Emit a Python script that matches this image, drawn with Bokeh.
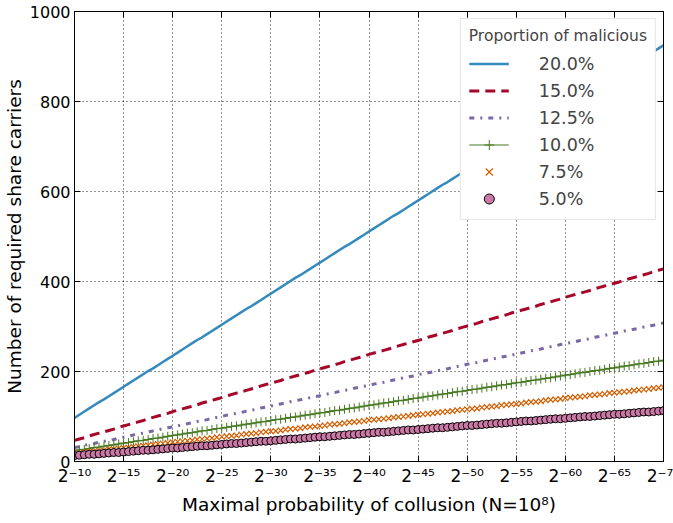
from bokeh.plotting import figure
from bokeh.models import (ColumnDataSource, Legend, LegendItem, FixedTicker,
                          LinearAxis, Range1d, CustomLabelingPolicy)
from bokeh.embed import file_html
from bokeh.resources import INLINE

# exponent k of the maximal probability of collusion 2^-k (grid step 0.5)
exponents = [e / 2 for e in range(20, 141)]

s20 = [97, 104, 111, 118, 125, 132, 138, 145, 152, 159, 166, 173, 180, 187, 194, 201, 207, 214, 221, 228,
       235, 242, 249, 256, 263, 270, 276, 283, 290, 297, 304, 311, 318, 325, 332, 339, 345, 352, 359, 366,
       373, 380, 387, 394, 401, 408, 414, 421, 428, 435, 442, 449, 456, 463, 470, 477, 483, 490, 497, 504,
       511, 518, 525, 532, 539, 546, 552, 559, 566, 573, 580, 587, 594, 601, 608, 615, 621, 628, 635, 642,
       649, 656, 663, 670, 677, 684, 690, 697, 704, 711, 718, 725, 732, 739, 746, 753, 759, 766, 773, 780,
       787, 794, 801, 808, 815, 822, 828, 835, 842, 849, 856, 863, 870, 877, 884, 891, 897, 904, 911, 918,
       925]
s15 = [47, 50, 53, 57, 60, 63, 66, 69, 72, 76, 79, 82, 85, 88, 91, 95, 98, 101, 104, 107,
       111, 114, 117, 120, 123, 126, 130, 133, 136, 139, 142, 145, 149, 152, 155, 158, 161, 164, 168, 171,
       174, 177, 180, 184, 187, 190, 193, 196, 199, 203, 206, 209, 212, 215, 218, 222, 225, 228, 231, 234,
       238, 241, 244, 247, 250, 253, 257, 260, 263, 266, 269, 272, 276, 279, 282, 285, 288, 291, 295, 298,
       301, 304, 307, 311, 314, 317, 320, 323, 326, 330, 333, 336, 339, 342, 345, 349, 352, 355, 358, 361,
       365, 368, 371, 374, 377, 380, 384, 387, 390, 393, 396, 399, 403, 406, 409, 412, 415, 418, 422, 425,
       428]
s125 = [31, 33, 36, 38, 40, 43, 45, 47, 49, 52, 54, 56, 59, 61, 63, 66, 68, 70, 73, 75,
        77, 79, 82, 84, 86, 89, 91, 93, 96, 98, 100, 103, 105, 107, 109, 112, 114, 116, 119, 121,
        123, 126, 128, 130, 133, 135, 137, 139, 142, 144, 146, 149, 151, 153, 156, 158, 160, 163, 165, 167,
        169, 172, 174, 176, 179, 181, 183, 186, 188, 190, 193, 195, 197, 199, 202, 204, 206, 209, 211, 213,
        216, 218, 220, 223, 225, 227, 230, 232, 234, 236, 239, 241, 243, 246, 248, 250, 253, 255, 257, 260,
        262, 264, 266, 269, 271, 273, 276, 278, 280, 283, 285, 287, 290, 292, 294, 296, 299, 301, 303, 306,
        308]
s10 = [24, 26, 27, 29, 31, 32, 34, 36, 37, 39, 41, 42, 44, 46, 47, 49, 51, 52, 54, 56,
       58, 59, 61, 63, 64, 66, 68, 69, 71, 73, 74, 76, 78, 79, 81, 83, 84, 86, 88, 89,
       91, 93, 94, 96, 98, 99, 101, 103, 104, 106, 108, 109, 111, 113, 114, 116, 118, 119, 121, 123,
       125, 126, 128, 130, 131, 133, 135, 136, 138, 140, 141, 143, 145, 146, 148, 150, 151, 153, 155, 156,
       158, 160, 161, 163, 165, 166, 168, 170, 171, 173, 175, 176, 178, 180, 181, 183, 185, 186, 188, 190,
       192, 193, 195, 197, 198, 200, 202, 203, 205, 207, 208, 210, 212, 213, 215, 217, 218, 220, 222, 223,
       225]
s75 = [18, 19, 20, 22, 23, 24, 25, 27, 28, 29, 30, 31, 33, 34, 35, 36, 38, 39, 40, 41,
       43, 44, 45, 46, 47, 49, 50, 51, 52, 54, 55, 56, 57, 58, 60, 61, 62, 63, 65, 66,
       67, 68, 69, 71, 72, 73, 74, 76, 77, 78, 79, 80, 82, 83, 84, 85, 87, 88, 89, 90,
       92, 93, 94, 95, 96, 98, 99, 100, 101, 103, 104, 105, 106, 107, 109, 110, 111, 112, 114, 115,
       116, 117, 118, 120, 121, 122, 123, 125, 126, 127, 128, 129, 131, 132, 133, 134, 136, 137, 138, 139,
       141, 142, 143, 144, 145, 147, 148, 149, 150, 152, 153, 154, 155, 156, 158, 159, 160, 161, 163, 164,
       165]
s5 = [13, 14, 15, 16, 16, 17, 18, 19, 20, 20, 21, 22, 23, 24, 25, 25, 26, 27, 28, 29,
      30, 30, 31, 32, 33, 34, 35, 35, 36, 37, 38, 39, 40, 40, 41, 42, 43, 44, 45, 45,
      46, 47, 48, 49, 50, 50, 51, 52, 53, 54, 55, 55, 56, 57, 58, 59, 60, 60, 61, 62,
      63, 64, 65, 65, 66, 67, 68, 69, 70, 70, 71, 72, 73, 74, 75, 75, 76, 77, 78, 79,
      80, 80, 81, 82, 83, 84, 85, 85, 86, 87, 88, 89, 90, 90, 91, 92, 93, 94, 95, 95,
      96, 97, 98, 99, 100, 100, 101, 102, 103, 104, 105, 105, 106, 107, 108, 109, 110, 110, 111, 112,
      113]

x_ticks = [10, 15, 20, 25, 30, 35, 40, 45, 50, 55, 60, 65, 70]
x_tick_labels = ["2⁻¹⁰", "2⁻¹⁵", "2⁻²⁰", "2⁻²⁵", "2⁻³⁰", "2⁻³⁵", "2⁻⁴⁰",
                 "2⁻⁴⁵", "2⁻⁵⁰", "2⁻⁵⁵", "2⁻⁶⁰", "2⁻⁶⁵", "2⁻⁷⁰"]
y_ticks = [0, 200, 400, 600, 800, 1000]
labels = ["20.0%", "15.0%", "12.5%", "10.0%", "7.5%", "5.0%"]

FONT = "DejaVu Sans"

src = ColumnDataSource(dict(x=exponents, s20=s20, s15=s15, s125=s125,
                            s10=s10, s75=s75, s5=s5))

p = figure(frame_width=589, frame_height=450, output_backend="svg", toolbar_location=None,
           x_range=Range1d(10, 70), y_range=Range1d(0, 1000),
           min_border_left=10, min_border_right=2, min_border_top=7,
           min_border_bottom=10)
p.background_fill_color = "white"
p.border_fill_color = "white"
p.outline_line_color = "black"
p.outline_line_width = 1

for ax in (p.xaxis[0], p.yaxis[0]):
    ax.major_label_text_font = FONT
    ax.axis_label_text_font = FONT
    ax.axis_label_text_font_style = "normal"
    ax.major_tick_in = 6
    ax.major_tick_out = 0
    ax.minor_tick_line_color = None
    ax.major_tick_line_color = "black"
    ax.axis_line_color = "black"
    ax.major_label_text_color = "black"
    ax.axis_label_text_color = "black"

p.xaxis.ticker = FixedTicker(ticks=x_ticks)
p.xaxis.major_label_overrides = {t: l for t, l in zip(x_ticks, x_tick_labels)}
p.xaxis.major_label_text_font_size = "17px"
p.xaxis.axis_label = "Maximal probability of collusion (N=10⁸)"
p.xaxis.axis_label_text_font_size = "18.5px"
p.xaxis.major_label_standoff = 4
p.xaxis.axis_label_standoff = 5

p.yaxis.ticker = FixedTicker(ticks=y_ticks)
p.yaxis.major_label_text_font_size = "16px"
p.yaxis.axis_label = "Number of required share carriers"
p.yaxis.axis_label_text_font_size = "18.5px"
p.yaxis.major_label_standoff = 4
p.yaxis.axis_label_standoff = 2

# tick marks on top and right spines (labels suppressed by a labeling policy)
no_labels = CustomLabelingPolicy(code="for (const i of Array.from(indices)) { indices.unset(i) } return indices")
for place in ("above", "right"):
    ax = LinearAxis(ticker=FixedTicker(ticks=x_ticks if place == "above" else y_ticks))
    ax.major_label_policy = no_labels
    ax.major_label_standoff = 0
    ax.major_tick_in = 6
    ax.major_tick_out = 0
    ax.minor_tick_line_color = None
    ax.axis_line_color = "black"
    ax.major_tick_line_color = "black"
    p.add_layout(ax, place)

for g in (p.xgrid[0], p.ygrid[0]):
    g.grid_line_color = "black"
    g.grid_line_dash = "1 3"
    g.grid_line_width = 1
    g.grid_line_alpha = 0.85
p.xgrid.ticker = FixedTicker(ticks=x_ticks)
p.ygrid.ticker = FixedTicker(ticks=y_ticks)

r20 = p.line("x", "s20", source=src, line_color="#348ABD", line_width=2.5)
r15 = p.line("x", "s15", source=src, line_color="#A60628", line_width=3, line_dash="10 6")
r125 = p.line("x", "s125", source=src, line_color="#7A68A6", line_width=3, line_dash="5 6 2 6")
r10l = p.line("x", "s10", source=src, line_color="#467821", line_width=1)
r10m = p.scatter("x", "s10", source=src, marker="cross", size=9, line_color="#467821", line_width=1)
r75 = p.scatter("x", "s75", source=src, marker="x", size=8, line_color="#D55E00", line_width=1.2)
r5 = p.scatter("x", "s5", source=src, marker="circle", size=8, fill_color="#CC79A7",
               line_color="black", line_width=1)

legend = Legend(items=[
    LegendItem(label=labels[0], renderers=[r20]),
    LegendItem(label=labels[1], renderers=[r15]),
    LegendItem(label=labels[2], renderers=[r125]),
    LegendItem(label=labels[3], renderers=[r10l, r10m]),
    LegendItem(label=labels[4], renderers=[r75]),
    LegendItem(label=labels[5], renderers=[r5]),
], title="Proportion of malicious", location="top_right")
legend.title_text_font = FONT
legend.title_text_font_size = "15.5px"
legend.title_text_font_style = "normal"
legend.title_standoff = 6
legend.label_text_font = FONT
legend.label_text_font_size = "17.5px"
legend.label_standoff = 30
legend.glyph_width = 40
legend.glyph_height = 25
legend.label_height = 25
legend.spacing = 2
legend.padding = 8
legend.margin = 7
legend.border_line_color = "#cccccc"
legend.border_line_width = 1
legend.background_fill_color = "white"
legend.background_fill_alpha = 1.0
p.add_layout(legend)

open("out.html", "w").write(file_html(p, INLINE))
